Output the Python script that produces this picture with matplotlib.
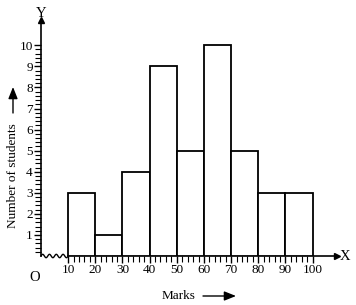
import numpy as np
import matplotlib.pyplot as plt
from matplotlib.patches import FancyArrowPatch
from matplotlib.ticker import FixedLocator

# class intervals (lower edges) and frequencies
lower_edges = [10, 20, 30, 40, 50, 60, 70, 80, 90]
class_width = 10
students = [3, 1, 4, 9, 5, 10, 5, 3, 3]
x_ticks = [10, 20, 30, 40, 50, 60, 70, 80, 90, 100]
y_ticks = [1, 2, 3, 4, 5, 6, 7, 8, 9, 10]

plt.rcParams['font.family'] = ['Liberation Serif', 'DejaVu Serif']

fig = plt.figure(figsize=(3.56, 3.05), dpi=100)
ax = fig.add_axes([41 / 356, 49 / 305, 296 / 356, 236 / 305])

ax.bar(lower_edges, students, width=class_width, align='edge',
       facecolor='white', edgecolor='black', linewidth=1.3, zorder=3)

ax.set_xlim(0, 109)
ax.set_ylim(0, 11.2)

for s in ['top', 'right']:
    ax.spines[s].set_visible(False)
ax.spines['left'].set_linewidth(1.2)
ax.spines['bottom'].set_linewidth(1.2)
ax.spines['bottom'].set_bounds(10, 109)

# axis arrows
ax.plot(1, 0, '>', color='black', markersize=5, transform=ax.transAxes, clip_on=False)
ax.plot(0, 1, '^', color='black', markersize=5, transform=ax.transAxes, clip_on=False)

# broken axis near the origin
zx = np.linspace(0, 10, 120)
ax.plot(zx, 0.08 * np.sin(zx * 2 * np.pi / 2.5), color='black', lw=1.0, clip_on=False)

ax.set_xticks(x_ticks)
ax.set_yticks(y_ticks)
ax.xaxis.set_minor_locator(FixedLocator(np.arange(10, 101, 2)))
ax.yaxis.set_minor_locator(FixedLocator(np.arange(0.2, 10.01, 0.2)))
ax.tick_params(axis='both', which='major', length=5, width=1.0, labelsize=9.5, pad=1)
ax.tick_params(axis='both', which='minor', length=4, width=0.8)

ax.text(0, 1.0, 'Y', transform=ax.transAxes, ha='center', va='bottom', fontsize=10.5)
ax.text(1.01, 0, 'X', transform=ax.transAxes, ha='left', va='center', fontsize=10.5)
ax.text(-2.5, -0.7, 'O', ha='center', va='top', fontsize=10.5)

# axis titles with arrows
fig.text(179 / 356, 1 - 296 / 305, 'Marks', ha='center', va='center', fontsize=9.5)
fig.text(13 / 356, 1 - 176 / 305, 'Number of students', ha='center', va='center',
         rotation=90, fontsize=9.5)
ap = dict(arrowstyle='-|>,head_length=0.7,head_width=0.28', mutation_scale=10,
          color='black', lw=1.0, shrinkA=0, shrinkB=0)
fig.add_artist(FancyArrowPatch((203 / 356, 1 - 296 / 305), (236 / 356, 1 - 296 / 305),
                               transform=fig.transFigure, **ap))
fig.add_artist(FancyArrowPatch((13 / 356, 1 - 113 / 305), (13 / 356, 1 - 87 / 305),
                               transform=fig.transFigure, **ap))

fig.savefig('out.png', dpi=100)
